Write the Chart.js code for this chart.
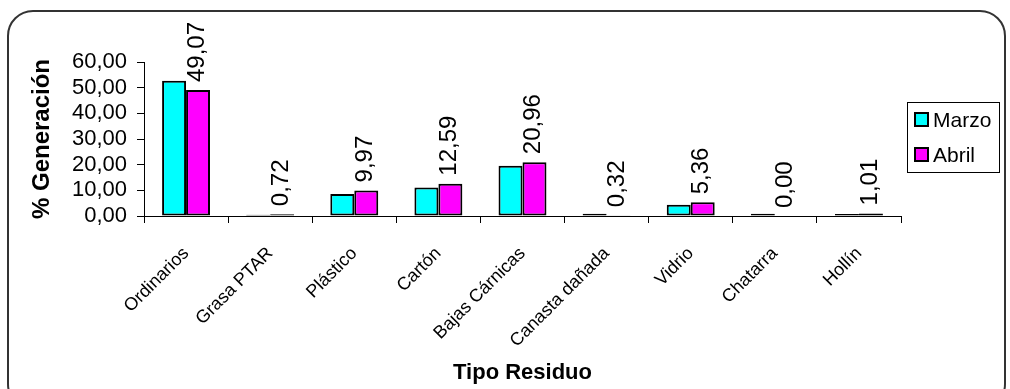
<!DOCTYPE html>
<html>
<head>
<meta charset="utf-8">
<script src="https://cdn.jsdelivr.net/npm/chart.js@4.4.1/dist/chart.umd.min.js"></script>
<style>
  html, body { margin: 0; padding: 0; background: #fff; overflow: hidden; }
  #wrap { position: relative; width: 1010px; height: 389px; }
  #frame {
    position: absolute; left: 7px; top: 10px; width: 999px; height: 400px;
    border: 2px solid #333; border-radius: 26px; box-sizing: border-box;
    pointer-events: none;
  }
  canvas { position: absolute; left: 0; top: 0; }
</style>
</head>
<body>
<div id="wrap">
  <div id="frame"></div>
  <canvas id="chart" width="1010" height="389"></canvas>
</div>
<script>
// Categories and series
const categories = ['Ordinarios', 'Grasa PTAR', 'Plástico', 'Cartón', 'Bajas Cárnicas',
                    'Canasta dañada', 'Vidrio', 'Chatarra', 'Hollín'];
const marzoValues = [52.7, 0.45, 8.6, 11.1, 19.6, 0.9, 4.4, 0.9, 0.8];
const abrilValues = [49.07, 0.72, 9.97, 12.59, 20.96, 0.32, 5.36, 0.00, 1.01];
const yTicks = [0, 10, 20, 30, 40, 50, 60];

const FONT = '"Liberation Sans", Arial, sans-serif';
Chart.defaults.font.family = FONT;
Chart.defaults.color = '#000';

function fmt(v) {
    return v.toFixed(2).replace('.', ',');
}

// Rotated value labels above the Abril bars
const valueLabels = {
    id: 'valueLabels',
    afterDatasetsDraw(chart) {
        const ctx = chart.ctx;
        const meta = chart.getDatasetMeta(1);
        ctx.save();
        ctx.font = '24px ' + FONT;
        ctx.fillStyle = '#000';
        ctx.textAlign = 'left';
        ctx.textBaseline = 'middle';
        meta.data.forEach((bar, i) => {
            ctx.save();
            ctx.translate(bar.x - 1, bar.y - 8);
            ctx.rotate(-Math.PI / 2);
            ctx.fillText(fmt(abrilValues[i]), 0, 0);
            ctx.restore();
        });
        ctx.restore();
    }
};

// Boxed legend to the right of the plot
const boxLegend = {
    id: 'boxLegend',
    afterDraw(chart) {
        const ctx = chart.ctx;
        const area = chart.chartArea;
        const x = area.right + 6, y = area.top + 40, w = 92, h = 70;
        ctx.save();
        ctx.strokeStyle = '#000';
        ctx.lineWidth = 1;
        ctx.strokeRect(x + 0.5, y + 0.5, w, h);
        ctx.font = '21px ' + FONT;
        ctx.textBaseline = 'middle';
        chart.data.datasets.forEach((ds, i) => {
            const cy = y + 18 + i * 35;
            ctx.fillStyle = ds.backgroundColor;
            ctx.fillRect(x + 8, cy - 7, 13, 13);
            ctx.lineWidth = 2;
            ctx.strokeRect(x + 8, cy - 7, 13, 13);
            ctx.fillStyle = '#000';
            ctx.fillText(ds.label, x + 26, cy + 1);
        });
        ctx.restore();
    }
};

new Chart(document.getElementById('chart'), {
    type: 'bar',
    data: {
        labels: categories,
        datasets: [
            { label: 'Marzo', data: marzoValues, backgroundColor: '#00FFFF',
              borderColor: '#000', borderWidth: 2, borderSkipped: false },
            { label: 'Abril', data: abrilValues, backgroundColor: '#FF00FF',
              borderColor: '#000', borderWidth: 2, borderSkipped: false }
        ]
    },
    options: {
        responsive: false,
        animation: false,
        categoryPercentage: 0.57,
        barPercentage: 1.0,
        layout: { padding: { top: 62, right: 109, left: 0, bottom: 0 } },
        plugins: { legend: { display: false }, tooltip: { enabled: false } },
        scales: {
            y: {
                min: 0, max: 60,
                afterFit(scale) { scale.width = 144; },
                afterBuildTicks(scale) { scale.ticks = yTicks.map(v => ({ value: v })); },
                ticks: { font: { size: 22 }, padding: 10, autoSkip: false, callback: v => fmt(v) },
                grid: { drawOnChartArea: false, tickLength: 7, color: '#000' },
                border: { color: '#000', width: 1 },
                title: { display: true, text: '% Generación', font: { size: 24, weight: 'bold' },
                         padding: { top: 28, bottom: 0 } }
            },
            x: {
                afterFit(scale) { scale.height = 389 - 216; },
                ticks: { font: { size: 18 }, minRotation: 45, maxRotation: 45, padding: 20, autoSkip: false },
                grid: { drawOnChartArea: false, tickLength: 7, color: '#000' },
                border: { color: '#000', width: 1 },
                title: { display: true, text: 'Tipo Residuo', font: { size: 22, weight: 'bold' },
                         padding: { top: 0, bottom: 3 } }
            }
        }
    },
    plugins: [valueLabels, boxLegend]
});
</script>
</body>
</html>
